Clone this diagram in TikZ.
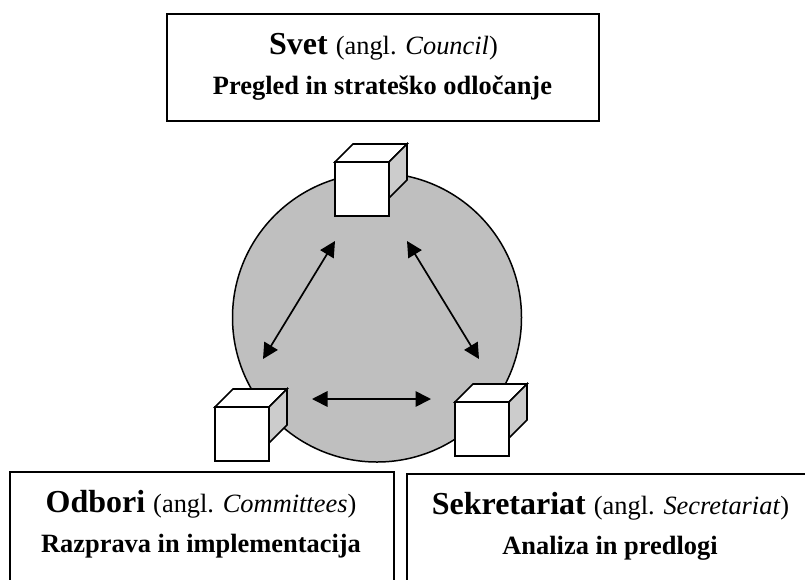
\documentclass[tikz,border=0pt]{standalone}
\usepackage{fontspec}
\setmainfont{Liberation Serif}
\usetikzlibrary{arrows.meta}
\tikzset{x=1pt,y=-1pt,
 lbl/.style={draw,line width=1.9pt,inner sep=0pt},
 txt/.style={inner sep=0pt,anchor=base},
 conn/.style={line width=1.7pt,{Triangle[length=15.5pt,width=15.5pt]}-{Triangle[length=15.5pt,width=15.5pt]}},
 edge/.style={line width=1.6pt,line join=miter}}
\newcommand{\cube}[3]{%
 \draw[edge,fill=white] (#1,#2) rectangle ++(54,54);
 \draw[edge,fill=white] (#1,#2) -- ++(18,-18) -- ++(54,0) -- ++(-18,18) -- cycle;
 \draw[edge,fill=black!20] (#1+54,#2) -- ++(18,-18) -- ++(0,36) -- ++(-18,18) -- cycle;
 \node[inner sep=0,minimum size=54pt] (#3) at (#1+27,#2+27) {};}
\newcommand{\headsz}{\fontsize{32}{36}\selectfont}
\newcommand{\mainsz}{\fontsize{26.4}{30}\selectfont}
\begin{document}
\begin{tikzpicture}
\useasboundingbox (0,0) rectangle (805,579);
\draw[line width=1.5pt,fill=black!25] (377,317.5) circle (144.5);
\cube{335}{162}{cubeA}
\cube{215}{407}{cubeB}
\cube{455}{402}{cubeC}
\coordinate (a1) at (335,241); \coordinate (b1) at (263,359);
\coordinate (a2) at (407,241); \coordinate (c2) at (479,359);
\coordinate (b3) at (312,399); \coordinate (c3) at (431,399);
\draw[conn] (a1) -- (b1);
\draw[conn] (a2) -- (c2);
\draw[conn] (b3) -- (c3);
\node[lbl,minimum width=432pt,minimum height=107pt] (svet) at (383,67.5) {};
\node[txt] (svetA) at (383.5,54) {\headsz\textbf{Svet} \mainsz (angl. \textit{Council})};
\node[txt] (svetB) at (382.5,94) {\mainsz\textbf{Pregled in strateško odločanje}};
\node[lbl,minimum width=384pt,minimum height=120pt] (odb) at (202,532) {};
\node[txt] (odbA) at (201,512) {\headsz\textbf{Odbori} \mainsz (angl. \textit{Committees})};
\node[txt] (odbB) at (201,552) {\mainsz\textbf{Razprava in implementacija}};
\node[lbl,minimum width=410pt,minimum height=120pt] (sek) at (612,534) {};
\node[txt] (sekA) at (610.5,514) {\headsz\textbf{Sekretariat} \mainsz (angl. \textit{Secretariat})};
\node[txt] (sekB) at (610,554) {\mainsz\textbf{Analiza in predlogi}};
\end{tikzpicture}
\end{document}
